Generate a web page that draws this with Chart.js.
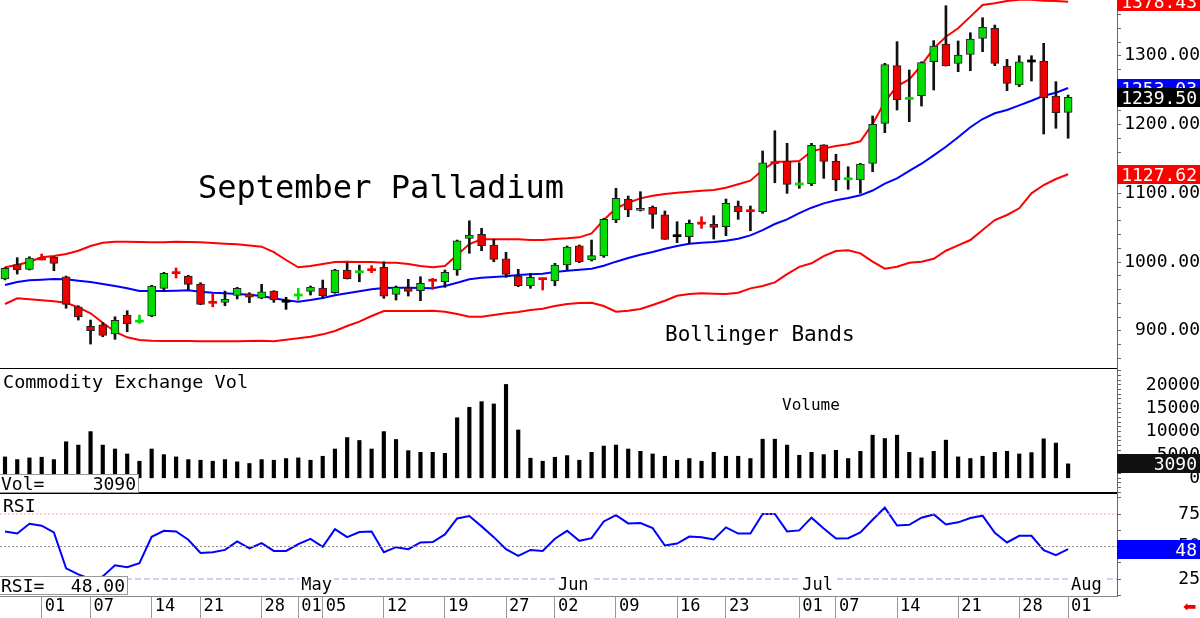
<!DOCTYPE html>
<html>
<head>
<meta charset="utf-8">
<script src="https://cdn.jsdelivr.net/npm/chart.js@4.4.1/dist/chart.umd.min.js"></script>
<style>
body{margin:0;background:#fff;}
#wrap{position:relative;width:1200px;height:618px;overflow:hidden;font-family:'DejaVu Sans Mono',monospace;color:#000;}
canvas{position:absolute;left:0;}
.t{position:absolute;white-space:pre;line-height:1;}
.hl{position:absolute;left:0;width:1117px;}
</style>
</head>
<body>
<div id="wrap">
  <canvas id="cPrice" width="1200" height="369" style="top:0"></canvas>
  <canvas id="cVol" width="1200" height="125" style="top:369px"></canvas>
  <canvas id="cRsi" width="1200" height="124" style="top:494px"></canvas>
  <div class="hl" style="top:368px;height:1px;background:#000"></div>
  <div class="hl" style="top:492px;height:2px;background:#000"></div>
</div>
<script>
// daily bars, 27 Mar .. 01 Aug
const opens = [975.3,996.1,989.4,1005,1006.8,978.6,935,906.5,908.8,895.3,
  922.9,913.5,921.5,961.7,985,979.6,968,941.9,941.4,951.6,
  953.9,947.6,957.8,943,951.5,957.4,962.2,955.3,988.4,985.4,
  989.3,992.3,953,962.2,958.3,974,971.3,988.4,1034.5,1040.3,
  1024.7,1004.8,979.6,965.1,976.3,972.4,995.6,1023.7,1002.9,1008.7,
  1061.1,1091.2,1075.2,1079.6,1068.8,1038.3,1036.8,1057,1054.8,1051.4,
  1081.5,1075.1,1073.2,1145,1146.9,1113,1113.5,1170.6,1146.5,1120.6,
  1119.3,1143.5,1201.7,1285.6,1237.6,1241.9,1291.3,1317.1,1289,1302.1,
  1325.4,1340,1285.1,1257.5,1292.4,1292.4,1241.4,1217.7];
const highs = [992,1006.3,1007.7,1011.6,1007.7,979.6,936.4,915.6,911.7,920.4,
  929.2,922.9,966.1,985,991.3,980.6,969.9,954.5,957.8,963.2,
  955.3,967.6,958.3,948.7,961.7,965.1,973.8,989.4,999,995.6,
  994.7,1000.4,965.1,974.8,978.6,976.3,988.4,1032,1060,1049,
  1033,1014.1,989.4,983.6,976.5,998.1,1023.3,1024.7,1032,1063.6,
  1107.2,1096,1102.3,1081.5,1074.2,1058.6,1061.1,1065.9,1067.4,1091.6,
  1088.7,1081.5,1161.5,1191,1172.6,1144.4,1172.6,1170.6,1156.7,1138.6,
  1143.5,1212.4,1289,1320.5,1279.3,1291.3,1322,1372.8,1321.5,1333.5,
  1355.3,1344.7,1294.8,1300.1,1300.1,1318.1,1262.3,1242.9];
const lows = [974,982.5,988.4,1003,987.4,932.7,915.6,880.7,891.3,887.6,
  898.6,910.8,920.4,958.3,976.7,959.3,937.9,935,936.4,946.2,
  940.8,946.6,941.4,931.2,944.7,952,947.2,954.5,975.3,971.3,
  984.5,947.2,944.7,950.5,943.7,960.3,963.2,980.6,1012.7,1016.4,
  1000.4,977.7,964.1,961.7,959.3,965.5,988.4,999,1001.5,1006.8,
  1057.2,1065.9,1074.2,1049,1033,1028.1,1027.2,1049,1033.5,1038.3,
  1062.1,1045.5,1070.8,1115.3,1099.9,1107.2,1111,1121.7,1103.7,1105.7,
  1099.9,1131.3,1188.1,1221.1,1204.1,1226.9,1250.2,1285.1,1276.8,1278.3,
  1305.9,1285.6,1249.2,1255,1263.3,1186.2,1194.5,1180];
const closes = [990.8,988.4,1005.8,1004,998.1,938.5,920,900.1,893.4,915.2,
  909.8,914.5,965.1,983.6,984,967.6,938.5,940.9,945.7,961.7,
  948.7,956.8,944.7,943,952.5,963.6,951,988.4,975.8,986.4,
  988.3,950.5,963.2,957.4,969,973,985,1031,1039.3,1023.7,
  1003.9,982.1,965.5,977.7,975.3,995.6,1021.8,1000.4,1009.2,1062.1,
  1092.6,1075.6,1078.1,1069.4,1033,1038.3,1056.3,1056,1050.5,1085.4,
  1073.2,1074.1,1144.4,1144,1113,1114,1169.8,1146.5,1119.3,1121.6,
  1142.5,1200.3,1287,1235.6,1238.6,1289.9,1314.2,1285.1,1301.1,1324.4,
  1341.4,1289,1259.9,1291.3,1292.4,1239,1217.2,1239.5];

// bollinger bands
const bbUpper = [992.3,995.6,1000.5,1006.8,1008.7,1011.6,1016.4,1023.3,1028.1,1029.6,
  1029.6,1029.1,1028.6,1028.6,1029.6,1029.1,1028.6,1027.6,1026.6,1025.7,
  1024.2,1022.3,1014.5,1002.9,992.3,994.2,997.1,1000,1000.5,1000,
  1000,999,999,997.1,994.2,992.3,994.2,1010.2,1026.2,1033,
  1033,1033,1033,1032,1032,1033.5,1034.5,1035.9,1041.7,1061.1,
  1078.1,1086.3,1092.6,1096.4,1098.9,1100.8,1102.3,1103.7,1104.7,1108.1,
  1113,1118.3,1133.8,1145.9,1145.9,1146.9,1161,1165.3,1168.7,1171.2,
  1175.6,1200.7,1233.2,1256,1265.7,1286.5,1310.8,1327.7,1340,1356.9,
  1373.8,1376.3,1379.6,1381.5,1381.5,1380,1379.5,1378.43];
const bbMid = [966.5,970.9,973.4,974.3,975.3,974.8,972.8,970.9,968,965.1,
  961.7,957.8,957.8,957.8,958.3,958.8,956.8,955.3,954.5,953.5,
  952.5,950.5,947.4,944.3,942.3,944.7,947.6,951.6,954.5,957.4,
  960.3,962.2,962.6,962.6,962.2,961.7,965.1,969.9,974.8,977.2,
  978.2,979.2,981.1,982.1,983,985.5,987.4,988.8,990.3,994.6,
  1000.5,1005.8,1010.6,1014.5,1019.4,1023.3,1026.6,1028.1,1029.1,1031,
  1033.9,1038.8,1046.5,1055.3,1062.1,1071,1079,1085.3,1089.7,1093,
  1097,1104,1114,1121.7,1132.6,1143,1155.2,1167.7,1181.4,1196,
  1208,1216.3,1221.1,1227.9,1234.6,1241.9,1246.3,1253.03];
const bbLower = [938.9,947.2,945.7,944.3,942.8,940.8,934.1,925.4,911.7,898.6,
  890.5,886.5,885.5,885,885,885,884.6,884.6,884.6,884.6,
  885,885.5,884.6,887,889,891.4,894.8,899.6,906.9,913.2,
  921.5,928.7,928.7,928.7,928.7,929.2,927.7,924.4,920.4,920.4,
  922.9,925.4,927.3,930.2,932.1,936,938.9,940.4,940.8,936,
  927.7,929.2,931.6,937.5,943.7,951,953.5,954.5,953.9,953.5,
  955.3,961.7,965.1,970.4,982.5,993,998.1,1008.7,1016,1017,
  1012.6,1000.5,990.3,993.2,999,1000.5,1004.8,1016.4,1024.2,1032,
  1046.5,1061.1,1068.4,1078.1,1099.9,1112,1120.7,1127.62];

const volumes = [4580,4010,4370,4510,4010,7820,7110,10000,7110,6270,
  5210,3660,6270,5070,4580,4010,3870,3660,4010,3520,
  3170,4010,3870,4230,4370,3870,4720,6270,8730,8100,
  6270,10000,8310,5920,5560,5560,5350,12960,15210,16410,
  15920,20100,10350,4300,3660,4510,4860,3870,5560,6900,
  7110,6270,5780,5210,4720,3870,4230,3660,5560,4720,
  4720,4230,8380,8380,7110,4930,5560,5070,5990,4230,
  5780,9230,8520,9230,5560,4370,5780,8170,4580,4230,
  4720,5560,5780,5210,5500,8450,7540,3090];

const rsiVals = [61.6,60,67.5,66,60.8,33.2,28.6,25,27,35.6,
  34,37.1,57.5,62.1,61.6,55.2,45.1,45.6,47.4,53.9,
  48.5,52.6,46.6,46.6,51.8,55.9,49.7,63.4,57.2,61.1,
  61.6,45.6,49.5,47.9,53.1,53.4,59.3,71.6,73.5,65.5,
  57.2,47.9,42.8,47.4,46.6,56,62.1,54.4,56.4,69.3,
  74.2,67.8,68,64.2,50.8,52.3,57.7,57.2,55.4,64.7,
  60,60,75,75,61.6,62.4,72.2,63.9,56.2,56.4,
  60.8,70.6,79.9,66.2,66.7,72.2,74.7,67,68.6,71.9,
  73.7,60.6,53.1,58.2,58.2,47.2,43.3,48];
const rsiLevels = [75, 50, 25];

// date axis
const dayTickIdx = [3,7,12,16,21,24,26,31,36,41,45,50,55,59,65,68,73,78,83,87];
const dayTickLabels = ['01','07','14','21','28','01','05','12','19','27','02','09','16','23','01','07','14','21','28','01'];
const monthIdx = [24,45,65,87];
const monthNames = ['May','Jun','Jul','Aug'];

const priceTickLabels = [900,1000,1100,1200,1300];
const volTickLabels = [0,5000,10000,15000,20000];
const rsiTickLabels = [25,50,75];

const X_MIN = -0.41, X_MAX = 91.0;
const GREEN = '#00dd00', RED = '#ee0000';
const VOL_TOP = 369, RSI_TOP = 494;

Chart.defaults.font.family = "'DejaVu Sans Mono', monospace";
Chart.defaults.animation = false;

const idx = opens.map((_, i) => i);
const isDoji = i => Math.abs(closes[i] - opens[i]) < 1.5;
const candleColor = i => closes[i] > opens[i] ? GREEN : closes[i] < opens[i] ? RED : '#000';

function sideAxis(min, max, step, labels, fmt, pad){
  return {
    type:'linear', position:'right', min, max,
    afterBuildTicks: s => {
      const t = [];
      for(let v = Math.ceil(min/step)*step; v <= max; v += step) t.push({value:v});
      s.ticks = t;
    },
    afterFit: s => { s.width = 83; s.paddingTop = 0; s.paddingBottom = 0; },
    grid:{drawOnChartArea:false, tickLength:4, color:'#666'},
    border:{color:'#666'},
    ticks:{autoSkip:false, crossAlign:'far', padding:pad, color:'#000', font:{size:18},
      callback: v => labels.includes(v) ? fmt(v) : ''}
  };
}
const hiddenX = {type:'linear', min:X_MIN, max:X_MAX, display:false, offset:false};
const baseOpts = {responsive:false, maintainAspectRatio:false, events:[],
  layout:{padding:0}, plugins:{legend:{display:false}, tooltip:{enabled:false}}};
const band = (arr, color) => ({type:'line', data: idx.map(i => ({x:i, y:arr[i]})),
  borderColor:color, borderWidth:2, pointRadius:0, tension:0, order:3});

// price panel
const priceChart = new Chart(document.getElementById('cPrice'), {
  type:'bar',
  data:{datasets:[
    band(bbUpper, '#ff0000'),
    band(bbLower, '#ff0000'),
    band(bbMid, '#0000ff'),
    {data: idx.map(i => ({x:i, y:[lows[i], highs[i]]})), barThickness:2, grouped:false, order:2,
      backgroundColor: idx.map(i => isDoji(i) && highs[i]-lows[i] < 20 ? candleColor(i) : '#111')},
    {data: idx.map(i => {
        const mid = (opens[i]+closes[i])/2;
        return {x:i, y: isDoji(i) ? [mid-1.5, mid+1.5] : [Math.min(opens[i],closes[i]), Math.max(opens[i],closes[i])]};
      }),
      barThickness:8, grouped:false, order:1, borderSkipped:false,
      backgroundColor: idx.map(candleColor),
      borderColor: idx.map(i => isDoji(i) ? candleColor(i) : '#222'),
      borderWidth: idx.map(i => isDoji(i) ? 0 : 1)}
  ]},
  options:{...baseOpts, scales:{x:hiddenX,
    y: sideAxis(844.4, 1381.1, 20, priceTickLabels, v => v.toFixed(2), 0)}}
});

// volume panel
const volChart = new Chart(document.getElementById('cVol'), {
  type:'bar',
  data:{datasets:[{data: idx.map(i => ({x:i, y:volumes[i]})), backgroundColor:'#000', barThickness:3.5}]},
  options:{...baseOpts, scales:{x:hiddenX,
    y: sideAxis(-3362, 23405, 1000, volTickLabels, v => String(v), 22)}}
});

// rsi panel
const rsiChart = new Chart(document.getElementById('cRsi'), {
  type:'line',
  data:{datasets:[
    ...rsiLevels.map((lv, k) => ({data:[{x:X_MIN, y:lv}, {x:X_MAX, y:lv}], pointRadius:0, borderWidth:1,
      borderColor:['#ffa0a0','#909090','#a0a0ff'][k], borderDash: k === 2 ? [6,3] : [2,2]})),
    {data: idx.map(i => ({x:i, y:rsiVals[i]})), borderColor:'#0000ff', borderWidth:2, pointRadius:0, tension:0}
  ]},
  options:{...baseOpts, scales:{
    x:{type:'linear', position:'bottom', min:X_MIN, max:X_MAX, offset:false,
      afterBuildTicks: s => { s.ticks = dayTickIdx.map(v => ({value:v})); },
      afterFit: s => { s.height = 21.3; s.paddingLeft = 0; s.paddingRight = 0; },
      grid:{drawOnChartArea:false, tickLength:22, color:'#999'},
      border:{color:'#888'},
      ticks:{autoSkip:false, maxRotation:0, align:'start', labelOffset:3, padding:-22, color:'#000', font:{size:17},
        callback: (v, i) => dayTickLabels[i]}},
    y: sideAxis(11.4, 90.4, 12.5, rsiTickLabels, v => String(v), 54)}}
});

// text overlays
const wrap = document.getElementById('wrap');
function put(text, css){
  const d = document.createElement('div');
  d.className = 't'; d.textContent = text;
  Object.assign(d.style, css);
  wrap.appendChild(d);
  return d;
}
put('September Palladium', {left:'198px', top:'171px', fontSize:'32px'});
put('Bollinger Bands', {left:'665px', top:'324px', fontSize:'21px'});
put('Commodity Exchange Vol', {left:'3px', top:'373px', fontSize:'18.5px'});
put('Volume', {left:'782px', top:'397px', fontSize:'16px'});
put('RSI', {left:'3px', top:'497px', fontSize:'18px'});

const last = opens.length - 1;
function infoBox(top, width, name, val){
  const b = put('', {left:'0', top:top+'px', width:width+'px', height:'17px', background:'#fff',
    border:'1px solid #999', borderLeft:'none', fontSize:'18px', lineHeight:'17px'});
  const a = document.createElement('span'); a.textContent = name; a.style.cssText = 'position:absolute;left:1px;';
  const c = document.createElement('span'); c.textContent = val; c.style.cssText = 'position:absolute;right:2px;';
  b.appendChild(a); b.appendChild(c);
}
infoBox(474, 138, 'Vol=', String(volumes[last]));
infoBox(576, 127, 'RSI=', rsiVals[last].toFixed(2));

function valueBox(panelTop, scale, v, txt, bg){
  put(txt, {left:'1117px', top:(panelTop + scale.getPixelForValue(v) - 9.5)+'px', width:'80px', height:'19px',
    lineHeight:'19px', paddingRight:'3px', textAlign:'right', background:bg, color:'#fff', fontSize:'18px'});
}
const py = priceChart.scales.y;
valueBox(0, py, bbUpper[last], bbUpper[last].toFixed(2), '#ff0000');
valueBox(0, py, bbMid[last], bbMid[last].toFixed(2), '#0000ff');
valueBox(0, py, closes[last], closes[last].toFixed(2), '#000');
valueBox(0, py, bbLower[last], bbLower[last].toFixed(2), '#ff0000');
valueBox(VOL_TOP, volChart.scales.y, volumes[last], String(volumes[last]), '#111');
valueBox(RSI_TOP, rsiChart.scales.y, rsiVals[last], String(rsiVals[last]), '#0000ff');

const rx = rsiChart.scales.x;
monthIdx.forEach((m, k) => {
  put(monthNames[k], {left:(rx.getPixelForValue(m) + 1)+'px', top:'576px', fontSize:'17px',
    background:'#fff', padding:'0 2px'});
});
put('\u2B05', {left:'1183px', top:'599px', fontSize:'16px', color:'#ee0000', fontFamily:'DejaVu Sans'});
</script>
</body>
</html>
